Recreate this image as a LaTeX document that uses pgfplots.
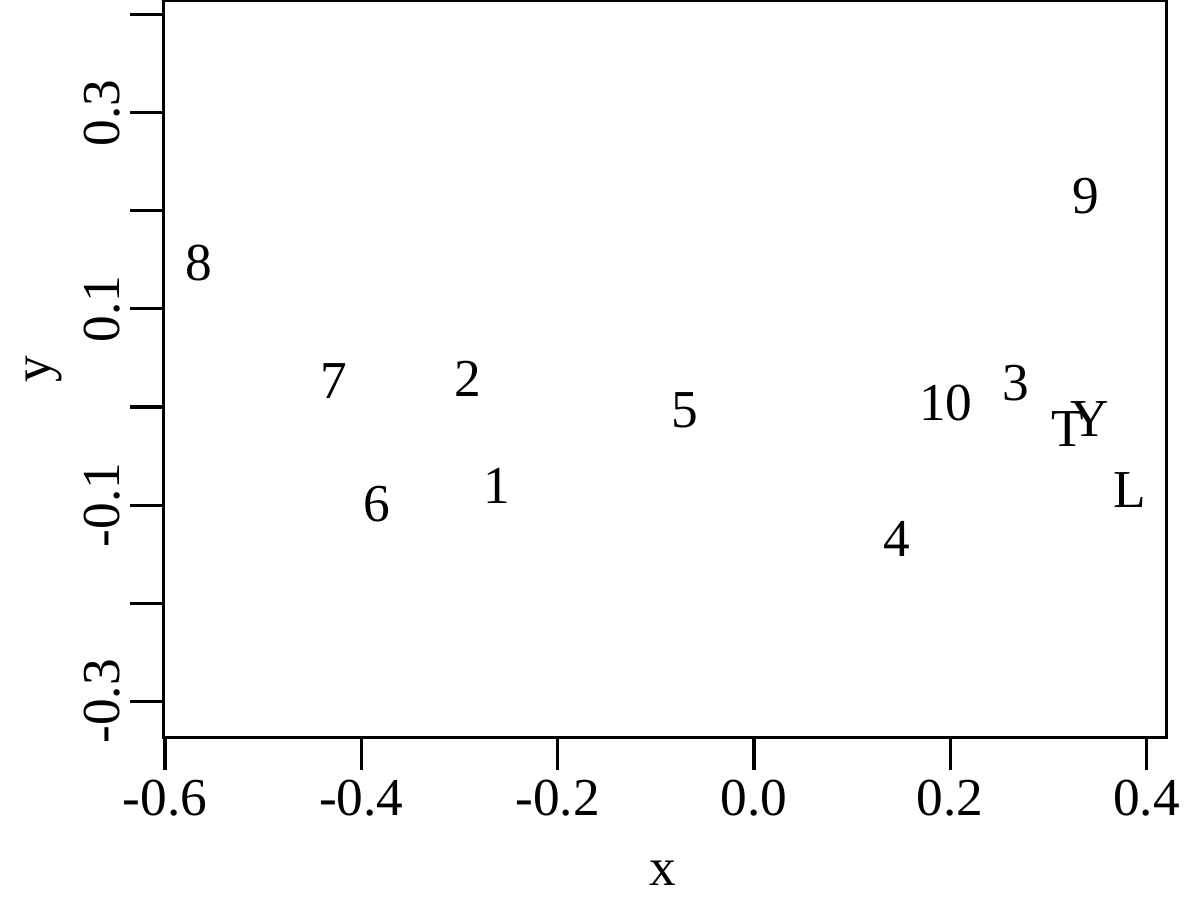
\documentclass[border=0pt]{standalone}
\usepackage{fontspec}
\setmainfont{Liberation Serif}
\usepackage{pgfplots}
\pgfplotsset{compat=1.18}
\begin{document}
\begin{tikzpicture}
\useasboundingbox (-58.7pt,-58.6pt) rectangle (373.3pt,265.4pt);
\begin{axis}[
  at={(0,0)}, anchor=south west,
  scale only axis,
  width=361.3pt, height=265.1pt,
  xmin=-0.602, xmax=0.4204,
  ymin=-0.3367, ymax=0.4142,
  axis line style={line width=1.1pt},
  every tick/.style={black, line width=1.1pt},
  tick align=outside,
  major tick length=11.8pt,
  xtick pos=bottom, ytick pos=left,
  xtick={-0.6,-0.4,-0.2,0,0.2,0.4},
  xticklabels={-0.6,-0.4,-0.2,0.0,0.2,0.4},
  ytick={-0.3,-0.2,-0.1,0,0.1,0.2,0.3,0.4},
  yticklabels={-0.3,,-0.1,,0.1,,0.3,},
  font=\fontsize{19.2}{23}\selectfont,
  xticklabel style={anchor=north},
  yticklabel style={rotate=90, anchor=south},
  xlabel={x}, ylabel={y},
  xlabel style={at={(axis description cs:0.498,-0.1847)}, anchor=center},
  ylabel style={at={(axis description cs:-0.1186,0.5)}, anchor=center, rotate=0},
  clip=false,
]
\addplot[only marks, mark=none, nodes near coords, point meta=explicit symbolic,
  nodes near coords style={anchor=center, font=\fontsize{19.2}{23}\selectfont}]
  table[meta=label] {
x y label
-0.2624 -0.0805 1
-0.2919 0.0290 2
0.2671 0.0240 3
0.1454 -0.1348 4
-0.0706 -0.0033 5
-0.3838 -0.0993 6
-0.4280 0.0261 7
-0.5657 0.1468 8
0.3385 0.2147 9
0.1953 0.0044 10
0.3198 -0.0221 T
0.3423 -0.0119 Y
0.3830 -0.0848 L
};
\end{axis}
\end{tikzpicture}
\end{document}
